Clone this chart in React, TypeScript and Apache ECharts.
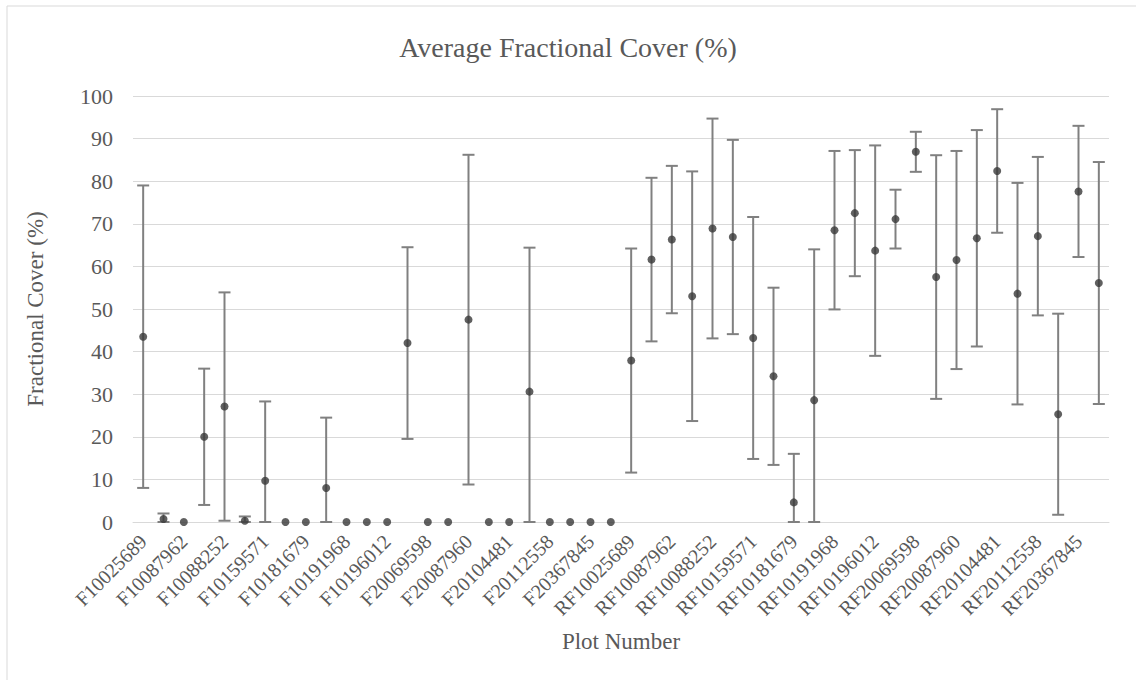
import React, { useEffect, useRef } from "react";
import * as echarts from "echarts";

const categories = [
  "F10025689", "", "F10087962", "", "F10088252", "", "F10159571", "", "F10181679", "", "F10191968", "",
  "F10196012", "", "F20069598", "", "F20087960", "", "F20104481", "", "F20112558", "", "F20367845", "",
  "RF10025689", "", "RF10087962", "", "RF10088252", "", "RF10159571", "", "RF10181679", "", "RF10191968", "",
  "RF10196012", "", "RF20069598", "", "RF20087960", "", "RF20104481", "", "RF20112558", "", "RF20367845", "",
];

const means = [
  43.5, 0.7, 0, 20.0, 27.1, 0.3, 9.7, 0, 0, 8.0, 0, 0,
  0, 42.0, 0, 0, 47.5, 0, 0, 30.6, 0, 0, 0, 0,
  37.9, 61.6, 66.3, 53.0, 68.9, 66.9, 43.2, 34.2, 4.6, 28.6, 68.5, 72.5,
  63.7, 71.1, 86.9, 57.5, 61.5, 66.6, 82.4, 53.6, 67.1, 25.3, 77.6, 56.1,
];

const errors = [
  35.5, 1.3, 0, 16.0, 26.8, 1.0, 18.6, 0, 0, 16.5, 0, 0,
  0, 22.5, 0, 0, 38.7, 0, 0, 33.8, 0, 0, 0, 0,
  26.3, 19.2, 17.3, 29.3, 25.8, 22.8, 28.4, 20.8, 11.4, 35.4, 18.6, 14.8,
  24.7, 6.9, 4.7, 28.6, 25.6, 25.4, 14.5, 26.0, 18.6, 23.6, 15.4, 28.4,
];

const yTicks = { min: 0, max: 100, interval: 10 };

const FONT = "Liberation Serif, serif";
const TEXT = "#595959";

export default function App() {
  const ref = useRef<HTMLDivElement>(null);
  useEffect(() => {
    if (!ref.current) return;
    const chart = echarts.init(ref.current, undefined, { renderer: "svg" });
    const errData = means.map((m, i) => [i, m, errors[i]]);
    const ptData = means.map((m, i) => [i, m]);
    chart.setOption({
      animation: false,
      backgroundColor: "#ffffff",
      textStyle: { fontFamily: FONT },
      title: {
        text: "Average Fractional Cover (%)",
        left: "center",
        top: 28,
        textStyle: { fontFamily: FONT, fontSize: 28, fontWeight: "normal", color: TEXT },
      },
      graphic: [
        {
          type: "rect",
          shape: { x: 7, y: 6, width: 1150, height: 700 },
          style: { fill: "none", stroke: "#d9d9d9", lineWidth: 1 },
          silent: true,
        },
      ],
      grid: { left: 133, right: 27, top: 96, bottom: 158, containLabel: false },
      xAxis: {
        type: "category",
        data: categories,
        boundaryGap: true,
        name: "Plot Number",
        nameLocation: "middle",
        nameGap: 108,
        nameTextStyle: { fontFamily: FONT, fontSize: 23, color: TEXT },
        axisLine: { show: true, lineStyle: { color: "#d9d9d9", width: 1 } },
        axisTick: { show: false },
        axisLabel: {
          interval: 1,
          rotate: 45,
          margin: 16,
          fontFamily: FONT,
          fontSize: 20,
          color: TEXT,
        },
        splitLine: { show: false },
      },
      yAxis: {
        type: "value",
        min: yTicks.min,
        max: yTicks.max,
        interval: yTicks.interval,
        name: "Fractional Cover (%)",
        nameLocation: "middle",
        nameGap: 86,
        nameTextStyle: { fontFamily: FONT, fontSize: 23, color: TEXT },
        axisLine: { show: false },
        axisTick: { show: false },
        axisLabel: { margin: 20, fontFamily: FONT, fontSize: 22, color: TEXT },
        splitLine: { show: true, lineStyle: { color: "#d9d9d9", width: 1 } },
      },
      series: [
        {
          type: "custom",
          name: "error",
          data: errData,
          encode: { x: 0, y: 1 },
          z: 2,
          renderItem: (params: any, api: any) => {
            const i = api.value(0);
            const m = api.value(1);
            const e = api.value(2);
            if (!(e > 0)) return null;
            const lo = Math.max(yTicks.min, m - e);
            const hi = Math.min(yTicks.max, m + e);
            const top = api.coord([i, hi]);
            const bot = api.coord([i, lo]);
            const hw = 6;
            const style = { stroke: "#808080", lineWidth: 2 };
            return {
              type: "group",
              children: [
                { type: "line", shape: { x1: top[0], y1: top[1], x2: bot[0], y2: bot[1] }, style },
                { type: "line", shape: { x1: top[0] - hw, y1: top[1], x2: top[0] + hw, y2: top[1] }, style },
                { type: "line", shape: { x1: bot[0] - hw, y1: bot[1], x2: bot[0] + hw, y2: bot[1] }, style },
              ],
            };
          },
        },
        {
          type: "scatter",
          name: "mean",
          data: ptData,
          symbol: "circle",
          symbolSize: 8,
          itemStyle: { color: "#383838" },
          z: 3,
        },
      ],
    });
    return () => chart.dispose();
  }, []);
  return (
    <div
      ref={ref}
      style={{ position: "fixed", left: 0, top: 0, width: 1136, height: 680 }}
    />
  );
}
